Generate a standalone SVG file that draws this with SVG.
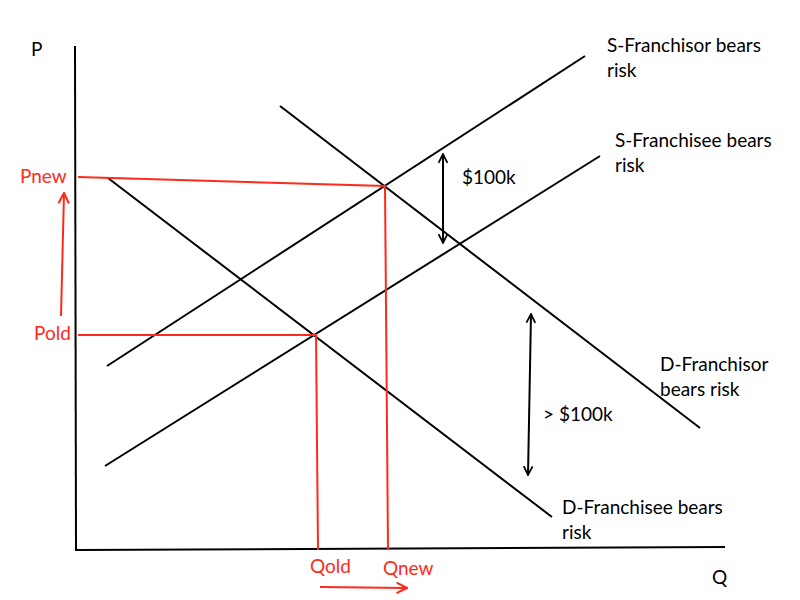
<svg xmlns="http://www.w3.org/2000/svg" width="800" height="600" viewBox="0 0 800 600">
<defs>
<style>
.k{stroke:#000;stroke-width:2;fill:none}
.r{stroke:#ff2a1a;stroke-width:2;fill:none}
.t{font-family:Lato,"Open Sans","Liberation Sans",sans-serif;font-size:19px;fill:#000}
.tr{font-family:Lato,"Open Sans","Liberation Sans",sans-serif;font-size:19px;fill:#ff2a1a}
</style>
<marker id="ak" viewBox="0 0 10 10" refX="9" refY="5" markerWidth="11" markerHeight="11" markerUnits="userSpaceOnUse" orient="auto-start-reverse"><path d="M1,1 L9,5 L1,9" fill="none" stroke="#000" stroke-width="1.6"/></marker>
<marker id="ar" viewBox="0 0 10 10" refX="9" refY="5" markerWidth="13" markerHeight="13" markerUnits="userSpaceOnUse" orient="auto"><path d="M1,1 L9,5 L1,9" fill="none" stroke="#ff2a1a" stroke-width="1.6"/></marker>
</defs>
<rect width="800" height="600" fill="#fff"/>
<g id="axes">
<line class="k" x1="75" y1="46" x2="76" y2="550"/>
<line class="k" x1="75" y1="550" x2="725" y2="547"/>
<text class="t" x="31" y="56">P</text>
<text class="t" x="712" y="584">Q</text>
</g>
<g id="curves">
<line class="k" x1="107" y1="366" x2="585" y2="56"/>
<line class="k" x1="105" y1="466" x2="600" y2="156"/>
<line class="k" x1="280" y1="106" x2="700" y2="428"/>
<line class="k" x1="108" y1="178" x2="552" y2="517"/>
</g>
<g id="red-lines">
<polyline class="r" points="78,177 385,186 388,550"/>
<polyline class="r" points="78,335 316,335 318,550"/>
<line class="r" x1="61" y1="316" x2="64" y2="193" marker-end="url(#ar)"/>
<line class="r" x1="320" y1="587" x2="407" y2="588" marker-end="url(#ar)"/>
</g>
<g id="gaps">
<line class="k" x1="443" y1="154" x2="443" y2="243" marker-start="url(#ak)" marker-end="url(#ak)"/>
<line class="k" x1="531" y1="314" x2="528" y2="475" marker-start="url(#ak)" marker-end="url(#ak)"/>
<text class="t" x="462" y="184">$100k</text>
<text class="t" x="543" y="421">&gt; $100k</text>
</g>
<g id="labels">
<text class="t" x="607" y="52">S-Franchisor bears</text>
<text class="t" x="607" y="77">risk</text>
<text class="t" x="615" y="147">S-Franchisee bears</text>
<text class="t" x="615" y="172">risk</text>
<text class="t" x="660" y="371">D-Franchisor</text>
<text class="t" x="660" y="396">bears risk</text>
<text class="t" x="562" y="514">D-Franchisee bears</text>
<text class="t" x="562" y="539">risk</text>
<text class="tr" x="20" y="183">Pnew</text>
<text class="tr" x="34" y="340">Pold</text>
<text class="tr" x="310" y="573">Qold</text>
<text class="tr" x="383" y="575">Qnew</text>
</g>
</svg>
